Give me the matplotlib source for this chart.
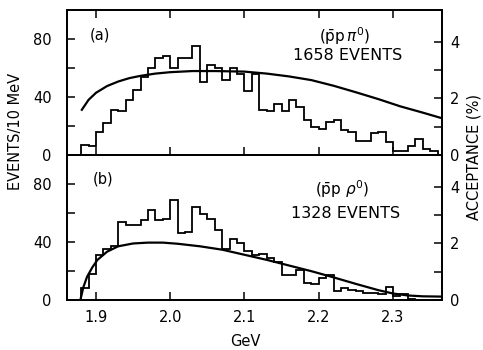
import numpy as np
import matplotlib
matplotlib.use("Agg")
import matplotlib.pyplot as plt

plt.rcParams['font.family'] = ['DejaVu Sans']
plt.rcParams['mathtext.fontset'] = 'dejavusans'

# ---------------- data ----------------
bin_start = 1.88
bin_width = 0.01

counts_a = [7, 6, 16, 22, 31, 30, 38, 45, 54, 60,
            67, 68, 60, 67, 67, 75, 50, 62, 60, 52,
            60, 56, 44, 56, 31, 30, 35, 30, 38, 33,
            24, 19, 18, 23, 24, 17, 16, 10, 10, 15,
            16, 9, 3, 3, 6, 11, 4, 3]

counts_b = [8, 18, 31, 35, 37, 54, 52, 52, 55, 62,
            55, 56, 69, 46, 47, 64, 59, 56, 48, 35,
            42, 39, 34, 31, 32, 29, 26, 17, 17, 21,
            12, 11, 15, 17, 6, 8, 7, 6, 5, 5,
            4, 9, 3, 4, 1]

acc_a_mass = [1.881, 1.89, 1.90, 1.915, 1.93, 1.945, 1.96, 1.98, 2.00, 2.03,
              2.06, 2.10, 2.13, 2.16, 2.19, 2.22, 2.25, 2.28, 2.31, 2.34, 2.366]
acc_a = [1.6, 1.95, 2.2, 2.44, 2.6, 2.72, 2.8, 2.88, 2.93, 2.97,
         2.97, 2.95, 2.88, 2.78, 2.65, 2.45, 2.22, 1.98, 1.72, 1.5, 1.3]

acc_b_mass = [1.879, 1.883, 1.888, 1.895, 1.902, 1.915, 1.93, 1.95, 1.97, 1.99,
              2.01, 2.04, 2.07, 2.10, 2.13, 2.16, 2.19, 2.22, 2.25, 2.28,
              2.30, 2.32, 2.34, 2.366]
acc_b = [0.0, 0.45, 0.82, 1.15, 1.42, 1.71, 1.9, 2.0, 2.03, 2.03,
         1.99, 1.9, 1.78, 1.6, 1.42, 1.22, 1.02, 0.8, 0.57, 0.35,
         0.23, 0.16, 0.13, 0.12]

x_ticks = [1.9, 2.0, 2.1, 2.2, 2.3]
x_ticklabels = ['1.9', '2.0', '2.1', '2.2', '2.3']
ev_ticks = [0, 20, 40, 60, 80]
ev_ticklabels = ['0', '', '40', '', '80']
acc_ticks = [0, 1, 2, 3, 4]
acc_ticklabels = ['0', '', '2', '', '4']

XMIN, XMAX = 1.861, 2.366
EVMAX = 100
ACCMAX = 5.13

W, H = 483, 350
fig = plt.figure(figsize=(W / 100, H / 100), dpi=100)
fig.patch.set_facecolor('white')

L, R = 67, 442
ax_a = fig.add_axes([L / W, 1 - 155 / H, (R - L) / W, 145 / H])
ax_b = fig.add_axes([L / W, 1 - 300 / H, (R - L) / W, 145 / H])

FS = 10.5

def style(ax, axr, counts, am, ac, bottom_labels, top_ticks):
    edges = bin_start + bin_width * np.arange(len(counts) + 1)
    ax.stairs(counts, edges, color='black', lw=1.3, baseline=0)
    axr.plot(am, ac, color='black', lw=1.6)
    ax.set_xlim(XMIN, XMAX)
    ax.set_ylim(0, EVMAX)
    axr.set_ylim(0, ACCMAX)
    ax.set_yticks(ev_ticks)
    ax.set_yticklabels(ev_ticklabels, fontsize=FS)
    axr.set_yticks(acc_ticks)
    axr.set_yticklabels(acc_ticklabels, fontsize=FS)
    ax.set_xticks(x_ticks)
    if bottom_labels:
        ax.set_xticklabels(x_ticklabels, fontsize=FS)
    else:
        ax.set_xticklabels([])
    ax.tick_params(axis='x', direction='in', length=6, width=1.1,
                   top=top_ticks, bottom=True, pad=7)
    ax.tick_params(axis='y', direction='in', length=6, width=1.1, pad=11)
    axr.tick_params(axis='y', direction='in', length=6, width=1.1, pad=6)
    for a in (ax, axr):
        for s in a.spines.values():
            s.set_linewidth(1.3)

ax_ar = ax_a.twinx()
ax_br = ax_b.twinx()
style(ax_a, ax_ar, counts_a, acc_a_mass, acc_a, False, True)
style(ax_b, ax_br, counts_b, acc_b_mass, acc_b, True, False)

# panel texts
fig.text(100 / W, 1 - 35 / H, '(a)', fontsize=FS, ha='center', va='center')
fig.text(103 / W, 1 - 179 / H, '(b)', fontsize=FS, ha='center', va='center')
fig.text(345 / W, 1 - 36 / H, r'($\bar{\mathrm{p}}$p$\,\pi^{0}$)', fontsize=11,
         ha='center', va='center')
fig.text(348 / W, 1 - 56 / H, '1658 EVENTS', fontsize=11.5, ha='center', va='center')
fig.text(342 / W, 1 - 189 / H, r'($\bar{\mathrm{p}}$p $\rho^{0}$)', fontsize=11,
         ha='center', va='center')
fig.text(346 / W, 1 - 213 / H, '1328 EVENTS', fontsize=11.5, ha='center', va='center')

fig.text(16 / W, 1 - 131 / H, 'EVENTS/10 MeV', fontsize=10.5, rotation=90,
         ha='center', va='center')
fig.text(474 / W, 1 - 157 / H, 'ACCEPTANCE (%)', fontsize=10.5, rotation=90,
         ha='center', va='center')
fig.text(245 / W, 1 - 342 / H, 'GeV', fontsize=10.5, ha='center', va='center')

fig.savefig('out.png', dpi=100, facecolor='white')
